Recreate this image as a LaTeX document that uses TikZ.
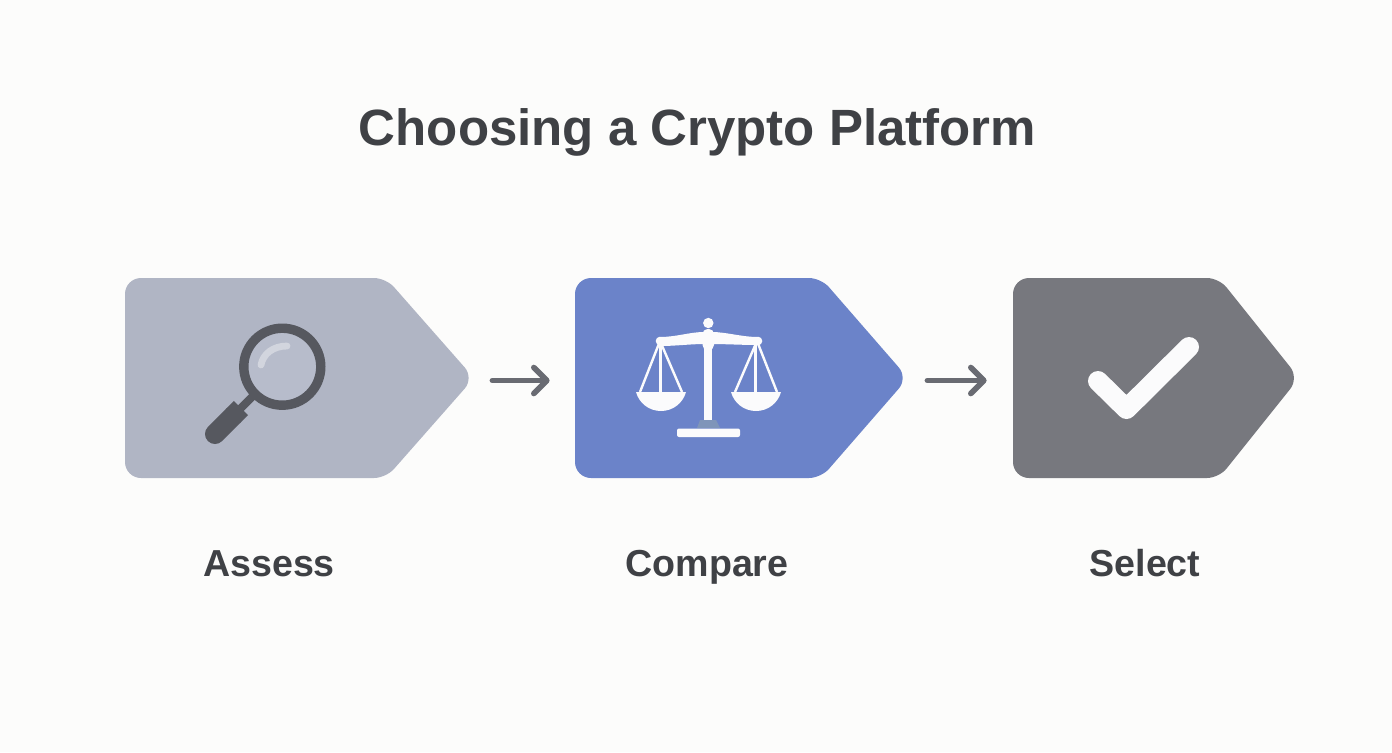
\documentclass[tikz,border=0pt]{standalone}
\usepackage{fontspec}
\setmainfont{Liberation Sans}
\usetikzlibrary{arrows.meta}
\definecolor{bgc}{HTML}{FCFCFB}
\definecolor{ink}{HTML}{3F4145}
\definecolor{tagA}{HTML}{B0B5C4}
\definecolor{tagB}{HTML}{6B83C9}
\definecolor{tagC}{HTML}{77787E}
\definecolor{arrowc}{HTML}{696B72}
\definecolor{lensring}{HTML}{56585F}
\definecolor{lensfill}{HTML}{B7BCCB}
\definecolor{glint}{HTML}{D2D5DE}
\definecolor{foot}{HTML}{7F95B9}
\definecolor{white2}{HTML}{FBFBFC}
\newcommand{\tagpath}[4]{% left, shoulder, tip, colour
  \fill[#4] (#1+60,278) [rounded corners=6pt] -- (#2,278) [rounded corners=7pt] -- (#3,378) [rounded corners=6pt] -- (#2,478) [rounded corners=8pt] -- (#1,478) -- (#1,278) -- cycle;
}
\tikzset{
  titletext/.style={text=ink,anchor=base,font=\fontsize{25.5pt}{30pt}\selectfont\bfseries,inner sep=0pt},
  labeltext/.style={text=ink,anchor=base,font=\fontsize{18.8pt}{22pt}\selectfont\bfseries,inner sep=0pt},
  anchorbox/.style={inner sep=0pt,minimum height=98pt},
  flow/.style={draw=arrowc,line width=2.8pt,line cap=round,-{Straight Barb[length=6.5pt,width=13pt,line cap=round,line join=round]}},
  scalepart/.style={fill=white2,draw=none},
  scaleline/.style={draw=white2,line width=1.2pt},
}
\begin{document}
\begin{tikzpicture}[x=0.5pt,y=-0.5pt]
\fill[bgc] (0,0) rectangle (1392,752);
\useasboundingbox (0,0) rectangle (1392,752);
% tags
\tagpath{125}{386}{474}{tagA}
\tagpath{575}{821}{908}{tagB}
\tagpath{1013}{1219}{1299}{tagC}
% anchors for connectors
\node[anchorbox,minimum width=172.5pt] (assess) at (297.5,380.5) {};
\node[anchorbox,minimum width=164pt] (compare) at (739,380.5) {};
\node[anchorbox,minimum width=141pt] (select) at (1154,380.5) {};
% connectors
\draw[flow,shorten <=11pt,shorten >=12.5pt] (assess.east) -- (compare.west);
\draw[flow,shorten <=12pt,shorten >=13pt] (compare.east) -- (select.west);
% magnifier
\draw[lensring,line width=10pt,line cap=round] (215,434) -- (233,416);
\draw[lensring,line width=10pt] (233,416) -- (241,408);
\draw[lensring,line width=4pt] (240,409) -- (256,393);
\fill[lensfill] (282.3,366.7) circle (36);
\draw[lensring,line width=4.7pt] (282.3,366.7) circle (38.5);
\draw[glint,line width=3.4pt,line cap=round] (261,365) .. controls (263,354) and (273,346) .. (287,346);
% balance
\fill[scalepart] (704,345) rectangle (712,421);
\fill[scalepart] (708.3,323) circle (5.2);
\fill[scalepart,rounded corners=2.5pt] (702.5,329) rectangle (714,350);
\fill[scalepart] (660,337) .. controls (676,337) and (690,332) .. (704,332) -- (712,332) .. controls (726,332) and (742,337) .. (758,337) -- (758,345) .. controls (742,345) and (726,344) .. (712,344) -- (704,344) .. controls (690,344) and (676,346) .. (660,346) -- cycle;
\fill[scalepart] (660,341) circle (4.3);
\fill[scalepart] (758,341) circle (4.3);
\draw[scaleline] (640,392) -- (660,341) -- (682,392);
\draw[scaleline] (660.5,341) -- (660.5,392);
\draw[scaleline] (735,392) -- (757,341) -- (777,392);
\draw[scaleline] (755.5,341) -- (755.5,392);
\fill[scalepart] (636,392) -- (686,392) .. controls (683,403) and (673,411) .. (661,411) .. controls (649,411) and (639,403) .. (636,392) -- cycle;
\fill[scalepart] (731,392) -- (781,392) .. controls (778,403) and (768,411) .. (756,411) .. controls (744,411) and (734,403) .. (731,392) -- cycle;
\fill[foot] (700,420) -- (716,420) -- (720,428) -- (697,428) -- cycle;
\fill[scalepart,rounded corners=1pt] (677,428.5) rectangle (740,437);
% check
\draw[white2,line width=10pt,line cap=round,line join=round] (1098,381) -- (1126.5,409) -- (1189,347);
% text
\node[titletext] (title) at (697.5,145) {Choosing a Crypto Platform};
\node[labeltext] (l1) at (269,576) {Assess};
\node[labeltext] (l2) at (707,576) {Compare};
\node[labeltext] (l3) at (1145,576) {Select};
\end{tikzpicture}
\end{document}
